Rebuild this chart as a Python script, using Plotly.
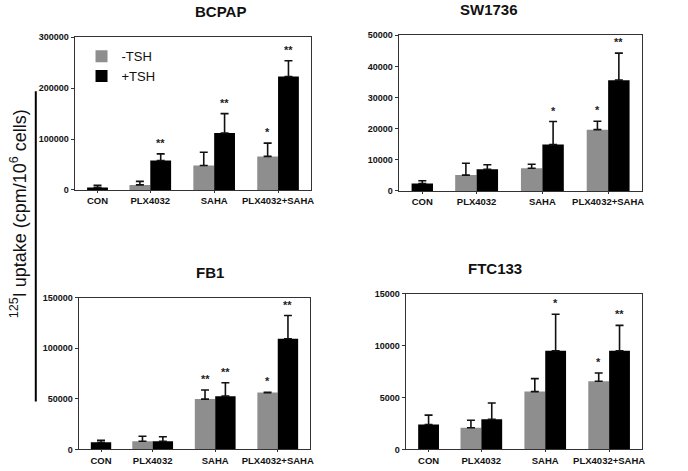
import plotly.graph_objects as go

categories = ["CON", "PLX4032", "SAHA", "PLX4032+SAHA"]

# panel names
panels = ["BCPAP", "SW1736", "FB1", "FTC133"]

# -TSH (grey) values for PLX4032, SAHA, PLX4032+SAHA ; CON has only +TSH bar
bcpap_minus = [10000, 48000, 66000]
bcpap_minus_err = [7000, 26000, 26000]
bcpap_plus = [5000, 58000, 112000, 223000]
bcpap_plus_err = [4000, 13000, 38000, 31000]
bcpap_minus_sig = ["", "", "*"]
bcpap_plus_sig = ["", "**", "**", "**"]

sw_minus = [5100, 7300, 19700]
sw_minus_err = [3800, 1300, 2700]
sw_plus = [2400, 7000, 14900, 35600]
sw_plus_err = [900, 1400, 7400, 8700]
sw_minus_sig = ["", "", "*"]
sw_plus_sig = ["", "", "*", "**"]

fb1_minus = [8000, 49700, 56100]
fb1_minus_err = [5000, 9000, 400]
fb1_plus = [7000, 8000, 52600, 109400]
fb1_plus_err = [2000, 4500, 13200, 22900]
fb1_minus_sig = ["", "**", "*"]
fb1_plus_sig = ["", "", "**", "**"]

ftc_minus = [2080, 5570, 6570]
ftc_minus_err = [720, 1250, 790]
ftc_plus = [2400, 2900, 9500, 9500]
ftc_plus_err = [900, 1570, 3520, 2450]
ftc_minus_sig = ["", "", "*"]
ftc_plus_sig = ["", "", "*", "**"]

y_max = [300000, 50000, 150000, 15000]
y_dtick = [100000, 10000, 50000, 5000]

data = [
    (bcpap_minus, bcpap_minus_err, bcpap_plus, bcpap_plus_err, bcpap_minus_sig, bcpap_plus_sig),
    (sw_minus, sw_minus_err, sw_plus, sw_plus_err, sw_minus_sig, sw_plus_sig),
    (fb1_minus, fb1_minus_err, fb1_plus, fb1_plus_err, fb1_minus_sig, fb1_plus_sig),
    (ftc_minus, ftc_minus_err, ftc_plus, ftc_plus_err, ftc_minus_sig, ftc_plus_sig),
]

# layout constants
W, H = 688, 471
cat_pos = [0.97, 3.2, 5.9, 8.6]
bw = 0.88
GREY = "#8e8e8e"
BLACK = "#000000"

# pixel boxes of the four plot areas: (left, right, top, bottom)
boxes = [(75, 313, 33, 189), (401, 646, 31, 190), (79, 312, 299, 454), (408, 646, 295, 454)]

fig = go.Figure()
annotations = []

for i, (name, d) in enumerate(zip(panels, data)):
    mi, mie, pl, ple, msig, psig = d
    ax = "" if i == 0 else str(i + 1)
    xref, yref = "x" + ax, "y" + ax
    gx = [p - bw / 2 for p in cat_pos[1:]]
    bx = [cat_pos[0]] + [p + bw / 2 for p in cat_pos[1:]]
    fig.add_trace(go.Bar(
        x=gx, y=mi, width=bw, marker=dict(color=GREY, line=dict(width=0)),
        error_y=dict(type="data", array=mie, arrayminus=[0] * len(mie), symmetric=False,
                     color="#111111", thickness=1.6, width=4),
        name="-TSH", legendgroup="m", showlegend=(i == 0), xaxis=xref, yaxis=yref))
    fig.add_trace(go.Bar(
        x=bx, y=pl, width=bw, marker=dict(color=BLACK, line=dict(width=0)),
        error_y=dict(type="data", array=ple, arrayminus=[0] * len(ple), symmetric=False,
                     color="#111111", thickness=1.6, width=4),
        name="+TSH", legendgroup="p", showlegend=(i == 0), xaxis=xref, yaxis=yref))
    for xs, vs, es, ss in ((gx, mi, mie, msig), (bx, pl, ple, psig)):
        for xv, v, e, s in zip(xs, vs, es, ss):
            if s:
                annotations.append(dict(x=xv, y=v + e, xref=xref, yref=yref, text="<b>" + s + "</b>",
                                        showarrow=False, yanchor="bottom", yshift=3,
                                        font=dict(family="Arial", size=11, color="#222")))
    l, r, t, b = boxes[i]
    xd = [l / W, r / W]
    yd = [1 - b / H, 1 - t / H]
    vals = list(range(0, y_max[i] + 1, y_dtick[i]))
    common = dict(showgrid=False, zeroline=False, showline=True, linecolor="#333",
                  linewidth=1, mirror=True, ticks="outside", tickcolor="#333")
    fig.update_layout(**{
        "xaxis" + ax: dict(domain=xd, range=[0, 10], tickvals=cat_pos,
                           ticktext=["<b>" + c + "</b>" for c in categories], ticklen=2,
                           tickfont=dict(family="Arial", size=9.5, color="#111"),
                           anchor=yref, **common),
        "yaxis" + ax: dict(domain=yd, range=[0, y_max[i]], tickvals=vals,
                           ticktext=["<b>" + str(v) + "</b>" for v in vals], ticklen=3,
                           tickfont=dict(family="Arial", size=9, color="#111"),
                           anchor=xref, **common),
    })
    annotations.append(dict(x=(l + r) / 2 / W, y=1 - (t - 26) / H, xref="paper", yref="paper",
                            text="<b>" + name + "</b>", showarrow=False, yanchor="middle",
                            font=dict(family="Arial", size=15, color="#111")))

annotations.append(dict(x=19 / W, y=1 - 213 / H, xref="paper", yref="paper",
                        xanchor="center", yanchor="middle",
                        text="<sup>125</sup>I uptake (cpm/10<sup>6</sup> cells)", textangle=-90,
                        showarrow=False, font=dict(family="Arial", size=18, color="#111")))

fig.update_layout(
    width=W, height=H, margin=dict(l=0, r=0, t=0, b=0),
    paper_bgcolor="white", plot_bgcolor="white",
    barmode="overlay", showlegend=True,
    legend=dict(x=82 / W, y=1 - 37 / H, xanchor="left", yanchor="top", bgcolor="rgba(0,0,0,0)",
                font=dict(family="Arial", size=13, color="#111"), tracegroupgap=0),
    annotations=annotations,
    shapes=[dict(type="line", xref="paper", yref="paper", x0=36 / W, x1=36 / W,
                 y0=1 - 88 / H, y1=1 - 405 / H, line=dict(color="black", width=2))],
)

fig.write_html("out.html", config={"displayModeBar": False},
               post_script="document.body.style.margin='0';")
